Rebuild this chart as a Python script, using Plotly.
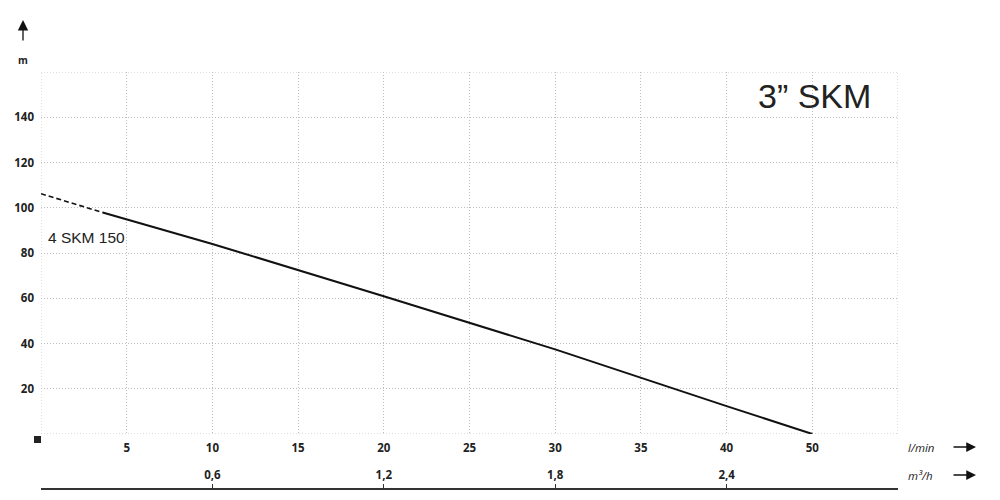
import plotly.graph_objects as go

# ---- data (x in displayed grid positions of the l/min scale) ----
dashed_flow = [0, 3.6]
dashed_head = [106.2, 97.9]
curve_flow = [3.6, 10, 20, 30, 40, 45]
curve_head = [97.9, 84.0, 60.9, 37.4, 12.3, 0]

x_grid = [0, 5, 10, 15, 20, 25, 30, 35, 40, 45, 50]
x_labels = ["", "5", "10", "15", "20", "25", "30", "35", "40", "50", ""]
y_grid = [0, 20, 40, 60, 80, 100, 120, 140, 160]
y_labels = ["", "20", "40", "60", "80", "100", "120", "140", ""]
m3h_ticks = [0.6, 1.2, 1.8, 2.4]
m3h_labels = ["0,6", "1,2", "1,8", "2,4"]

title_text = "3\u201d SKM"
curve_name = "4 SKM 150"

# ---- geometry ----
W, H = 1000, 500
L, R, T, B = 41, 102, 72, 11
plot_w = W - L - R
plot_h = H - T - B
ydom0 = (489 - 434) / plot_h

def px(xp):
    return (xp - L) / plot_w

def py(yp):
    return (H - B - yp) / plot_h

grid_col = "#bdbdbd"
grid_dash = "1px,2px"
tick_font = dict(family="Open Sans, Arial, sans-serif", size=11.5, color="#222", weight="bold")

fig = go.Figure()
fig.add_trace(go.Scatter(x=dashed_flow, y=dashed_head, mode="lines",
                         line=dict(color="#111", width=1.6, dash="5px,3px"),
                         hoverinfo="skip", showlegend=False))
fig.add_trace(go.Scatter(x=curve_flow, y=curve_head, mode="lines",
                         line=dict(color="#111", width=2),
                         hoverinfo="skip", showlegend=False))
fig.add_trace(go.Scatter(x=m3h_ticks, y=[None] * len(m3h_ticks), xaxis="x2", yaxis="y",
                         mode="lines", hoverinfo="skip", showlegend=False))

fig.update_layout(
    width=W, height=H,
    margin=dict(l=L, r=R, t=T, b=B, autoexpand=False),
    paper_bgcolor="white", plot_bgcolor="white",
    xaxis=dict(range=[0, 50], tickvals=x_grid, ticktext=x_labels,
               showgrid=True, gridcolor=grid_col, griddash=grid_dash, gridwidth=1,
               zeroline=False, showline=False, ticks="", tickfont=tick_font,
               ticklabelstandoff=5, anchor="y", fixedrange=True),
    xaxis2=dict(range=[0, 3.0], overlaying="x", anchor="free", position=0, side="top",
                tickvals=m3h_ticks, ticktext=m3h_labels, showgrid=False, zeroline=False,
                showline=True, linecolor="#333", linewidth=2,
                ticks="outside", ticklen=4, tickcolor="#333", tickwidth=1,
                tickfont=tick_font, fixedrange=True),
    yaxis=dict(range=[0, 160], domain=[ydom0, 1], tickvals=y_grid, ticktext=y_labels,
               showgrid=True, gridcolor=grid_col, griddash=grid_dash, gridwidth=1,
               zeroline=False, showline=False, ticks="", tickfont=tick_font,
               ticklabelstandoff=6, fixedrange=True),
)

# border gridlines at the range ends
for xv in (x_grid[0], x_grid[-1]):
    fig.add_shape(type="line", xref="x", yref="y", x0=xv, x1=xv, y0=y_grid[0], y1=y_grid[-1],
                  line=dict(color=grid_col, width=1, dash=grid_dash), layer="below")
for yv in (y_grid[0], y_grid[-1]):
    fig.add_shape(type="line", xref="x", yref="y", x0=x_grid[0], x1=x_grid[-1], y0=yv, y1=yv,
                  line=dict(color=grid_col, width=1, dash=grid_dash), layer="below")

ann = []
ann.append(dict(x=px(814), y=py(96), xref="paper", yref="paper", text=title_text,
                showarrow=False, font=dict(family="Liberation Sans, Arial, sans-serif", size=34, color="#222"),
                xanchor="center", yanchor="middle"))
ann.append(dict(x=px(46), y=py(237), xref="paper", yref="paper", text=curve_name,
                showarrow=False, font=dict(family="Liberation Sans, Arial, sans-serif", size=15.5, color="#222"),
                xanchor="left", yanchor="middle"))
ann.append(dict(x=px(23), y=py(60), xref="paper", yref="paper", text="<b>m</b>",
                showarrow=False, font=dict(family="Open Sans, Arial, sans-serif", size=10, color="#222"),
                xanchor="center", yanchor="middle"))
ann.append(dict(x=px(23), y=py(20), xref="paper", yref="paper", text="",
                showarrow=True, arrowhead=2, arrowsize=1.6, arrowwidth=1.3, arrowcolor="#111",
                ax=0, ay=22))
ann.append(dict(x=px(906), y=py(447), xref="paper", yref="paper", text="<i>l/min</i>",
                showarrow=False, font=dict(family="Open Sans, Arial, sans-serif", size=11.5, color="#222"),
                xanchor="left", yanchor="middle"))
ann.append(dict(x=px(906), y=py(475), xref="paper", yref="paper", text="<i>m\u00b3/h</i>",
                showarrow=False, font=dict(family="Open Sans, Arial, sans-serif", size=11.5, color="#222"),
                xanchor="left", yanchor="middle"))
for yy in (447, 475):
    ann.append(dict(x=px(976), y=py(yy), xref="paper", yref="paper", text="",
                    showarrow=True, arrowhead=2, arrowsize=1.5, arrowwidth=1.3, arrowcolor="#111",
                    ax=-24, ay=0))
fig.update_layout(annotations=ann)

# small square marker at the origin corner (paper-referenced so it is not clipped)
fig.add_shape(type="rect", xref="paper", yref="paper", xsizemode="pixel", ysizemode="pixel",
              xanchor=0, yanchor=ydom0, x0=-7, x1=0, y0=-9, y1=-2,
              fillcolor="#222", line=dict(width=0))

fig.write_html("out.html", config={"displayModeBar": False},
               post_script="document.body.style.margin='0';")
